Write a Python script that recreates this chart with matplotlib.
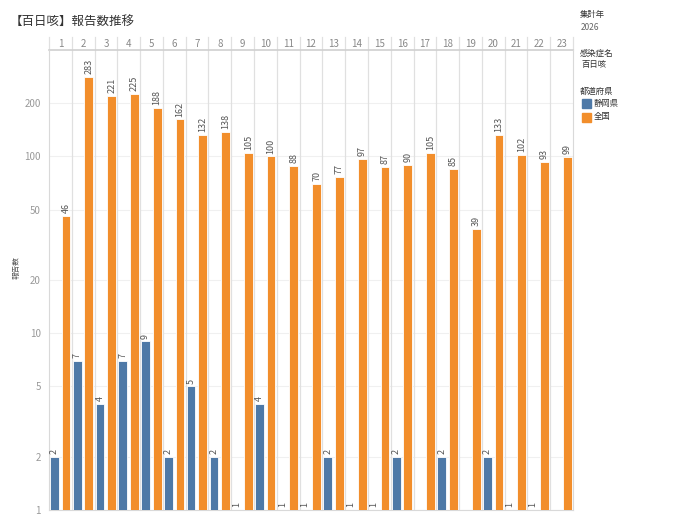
import matplotlib
matplotlib.use("Agg")
import matplotlib.pyplot as plt
import numpy as np

plt.rcParams['font.family'] = ['Noto Sans CJK JP', 'DejaVu Sans']

weeks = list(range(1, 24))
shizuoka = [2, 7, 4, 7, 9, 2, 5, 2, 1, 4, 1, 1, 2, 1, 1, 2, None, 2, None, 2, 1, 1, None]
zenkoku = [46, 283, 221, 225, 188, 162, 132, 138, 105, 100, 88, 70, 77, 97, 87, 90, 105, 85, 39, 133, 102, 93, 99]
yticks = [1, 2, 5, 10, 20, 50, 100, 200]

c_blue = '#4e79a7'
c_orange = '#f28e2b'

W, H = 690, 518
fig = plt.figure(figsize=(W / 100, H / 100), dpi=100)
x0, x1, y0, y1 = 49, 573, 50, 510
ax = fig.add_axes([x0 / W, 1 - y1 / H, (x1 - x0) / W, (y1 - y0) / H])
ax.set_yscale('log')
ax.set_ylim(1, 400)
ax.set_xlim(0, len(weeks))

bw = 0.385
for i, (s, z) in enumerate(zip(shizuoka, zenkoku)):
    if s is not None:
        xb = i + 0.045
        ax.bar(xb, s - 1, bottom=1, width=bw, align='edge', color=c_blue,
               edgecolor='white', linewidth=0.6, zorder=3)
        ax.annotate(str(s), (xb + bw / 2, s), xytext=(0, 2), textcoords='offset points',
                    rotation=90, ha='center', va='bottom', fontsize=6.5, color='#555555', zorder=4)
    xo = i + 0.555
    ax.bar(xo, z - 1, bottom=1, width=bw, align='edge', color=c_orange,
           edgecolor='white', linewidth=0.6, zorder=3)
    ax.annotate(str(z), (xo + bw / 2, z), xytext=(0, 2), textcoords='offset points',
                rotation=90, ha='center', va='bottom', fontsize=6.5, color='#555555', zorder=4)

ax.set_yticks(yticks)
ax.set_yticklabels([str(t) for t in yticks])
ax.yaxis.set_minor_locator(matplotlib.ticker.NullLocator())
ax.tick_params(axis='y', length=0, labelsize=7, labelcolor='#999999', pad=6)
ax.set_xticks([])
for t in yticks:
    ax.axhline(t, color='#f0f0f0', lw=0.8, zorder=1)

for sp in ['top']:
    ax.spines[sp].set_visible(False)
ax.spines['left'].set_color('#d9d9d9')
ax.spines['bottom'].set_color('#d9d9d9')
ax.spines['right'].set_color('#d9d9d9')

# column separators extending through header
hdr_top = 37
hdr_h = 1 + (y0 - hdr_top) / (y1 - y0)
for k in range(1, len(weeks)):
    ax.axvline(k, color='#e0e0e0', lw=0.9, zorder=2)
for k in range(0, len(weeks) + 1):
    ax.plot([k, k], [1, hdr_h], transform=ax.get_xaxis_transform(),
            color='#e0e0e0', lw=0.9, clip_on=False)
ax.plot([0, len(weeks)], [1, 1], transform=ax.get_xaxis_transform(),
        color='#d0d0d0', lw=1.2, clip_on=False)

for i, w in enumerate(weeks):
    ax.text(i + 0.5, 1 + (y0 - 44) / (y1 - y0), str(w), transform=ax.get_xaxis_transform(),
            ha='center', va='center', fontsize=7, color='#888888')

fig.text(17 / W, 1 - 268 / H, '報告数', fontsize=5.5, color='#555555', rotation=90,
         ha='center', va='center')

fig.text(10 / W, 1 - 21 / H, '【百日咳】報告数推移', fontsize=9, color='#333333', va='center', ha='left')

lx = 580 / W
fig.text(lx, 1 - 15 / H, '集計年', fontsize=6, color='#333333', va='center')
fig.text(lx + 1 / W, 1 - 27 / H, '2026', fontsize=6, color='#666666', va='center')
fig.text(lx, 1 - 53 / H, '感染症名', fontsize=6, color='#333333', va='center')
fig.text(lx + 1 / W, 1 - 65 / H, '百日咳', fontsize=6, color='#333333', va='center')
fig.text(lx, 1 - 91 / H, '都道府県', fontsize=6, color='#333333', va='center')
for yy, lab, col in [(103, '静岡県', c_blue), (117, '全国', c_orange)]:
    fig.patches.append(matplotlib.patches.Rectangle((582 / W, 1 - (yy + 4.5) / H), 9 / W, 9 / H,
                                                    transform=fig.transFigure, color=col))
    fig.text(594 / W, 1 - yy / H, lab, fontsize=6, color='#333333', va='center')

fig.savefig('out.png', dpi=100)
